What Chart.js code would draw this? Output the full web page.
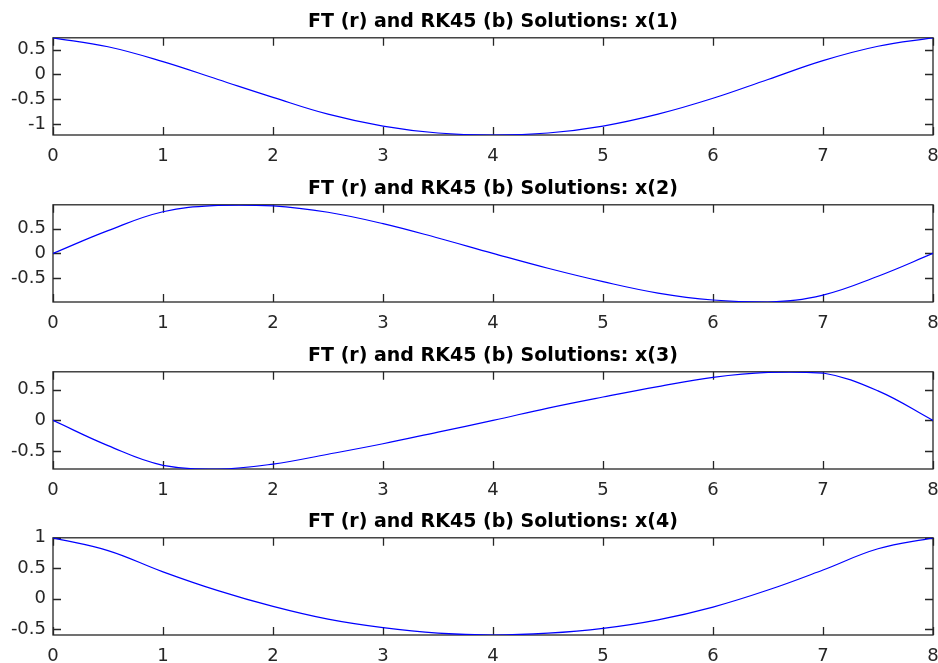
<!DOCTYPE html>
<html>
<head>
<meta charset="utf-8">
<title>FT and RK45 solutions</title>
<script src="https://cdn.jsdelivr.net/npm/chart.js@4.4.0/dist/chart.umd.min.js"></script>
<style>
  html, body { margin: 0; padding: 0; background: #fff; }
  #fig { position: relative; width: 938px; height: 663px; overflow: hidden; }
  .sub { position: absolute; left: 0; width: 938px; height: 163px; }
</style>
</head>
<body>
<div id="fig">
  <div class="sub" style="top:0px"><canvas id="c1" width="938" height="163"></canvas></div>
  <div class="sub" style="top:167px"><canvas id="c2" width="938" height="163"></canvas></div>
  <div class="sub" style="top:334px"><canvas id="c3" width="938" height="163"></canvas></div>
  <div class="sub" style="top:500px"><canvas id="c4" width="938" height="163"></canvas></div>
</div>
<script>
// time samples (every 0.5)
const tVals = [0, 0.5, 1, 1.5, 2, 2.5, 3, 3.5, 4, 4.5, 5, 5.5, 6, 6.5, 7, 7.5, 8]

const x1Vals = [0.74, 0.56, 0.26, -0.1, -0.46, -0.8, -1.04, -1.18, -1.22, -1.18, -1.04, -0.8, -0.48, -0.1, 0.28, 0.57, 0.74]
const x2Vals = [0, 0.46, 0.84, 0.97, 0.96, 0.83, 0.6, 0.31, 0, -0.3, -0.57, -0.8, -0.94, -0.98, -0.84, -0.46, 0]
const x3Vals = [0, -0.41, -0.73, -0.79, -0.71, -0.55, -0.38, -0.19, 0, 0.2, 0.38, 0.55, 0.7, 0.78, 0.77, 0.48, 0]
const x4Vals = [1.0, 0.79, 0.44, 0.13, -0.13, -0.34, -0.48, -0.57, -0.6, -0.57, -0.49, -0.35, -0.14, 0.14, 0.47, 0.82, 1.0]

const xTicks = [0, 1, 2, 3, 4, 5, 6, 7, 8]
const y1Ticks = [-1, -0.5, 0, 0.5]
const y2Ticks = [-0.5, 0, 0.5]
const y3Ticks = [-0.5, 0, 0.5]
const y4Ticks = [-0.5, 0, 0.5, 1]

const y1Range = [-1.22, 0.74]
const y2Range = [-0.98, 0.98]
const y3Range = [-0.79, 0.79]
const y4Range = [-0.6, 1.0]

const titles = [
  "FT (r) and RK45 (b) Solutions: x(1)",
  "FT (r) and RK45 (b) Solutions: x(2)",
  "FT (r) and RK45 (b) Solutions: x(3)",
  "FT (r) and RK45 (b) Solutions: x(4)",
]

const axisColor = "#262626"
const tickFont = { family: "DejaVu Sans", size: 18 }

// MATLAB-style box with inward ticks on all four sides
const matlabBox = {
  id: "matlabBox",
  beforeDatasetsDraw(chart) {
    const { ctx, chartArea: a, scales } = chart
    const len = 8
    ctx.save()
    ctx.strokeStyle = axisColor
    ctx.lineWidth = 1.3
    ctx.beginPath()
    for (const tk of scales.x.ticks) {
      const px = Math.round(scales.x.getPixelForValue(tk.value)) + 0.5
      ctx.moveTo(px, a.bottom)
      ctx.lineTo(px, a.bottom - len)
      ctx.moveTo(px, a.top)
      ctx.lineTo(px, a.top + len)
    }
    for (const tk of scales.y.ticks) {
      const py = Math.round(scales.y.getPixelForValue(tk.value)) + 0.5
      ctx.moveTo(a.left, py)
      ctx.lineTo(a.left + len, py)
      ctx.moveTo(a.right, py)
      ctx.lineTo(a.right - len, py)
    }
    ctx.stroke()
    ctx.strokeRect(a.left, a.top, a.right - a.left, a.bottom - a.top)
    ctx.restore()
  },
}

function makeSubplot(id, title, yVals, yTicks, yRange) {
  const ctx = document.getElementById(id).getContext("2d")
  return new Chart(ctx, {
    type: "line",
    data: {
      datasets: [
        {
          data: tVals.map((t, i) => ({ x: t, y: yVals[i] })),
          borderColor: "#0000ff",
          borderWidth: 1.2,
          pointRadius: 0,
          fill: false,
          tension: 0.4,
        },
      ],
    },
    options: {
      responsive: false,
      animation: false,
      events: [],
      layout: { padding: { left: 0, right: 5, top: 0, bottom: 0 } },
      plugins: {
        legend: { display: false },
        tooltip: { enabled: false },
        title: {
          display: true,
          text: title,
          fullSize: false,
          color: "#000",
          font: { family: "DejaVu Sans", size: 19, weight: "bold" },
          padding: { top: 11, bottom: 4 },
        },
      },
      scales: {
        x: {
          type: "linear",
          min: 0,
          max: 8,
          afterBuildTicks: (s) => { s.ticks = xTicks.map((v) => ({ value: v })) },
          afterFit: (s) => {
            s.height = 28
            s.paddingLeft = 0
            s.paddingRight = 0
          },
          grid: { display: false, drawTicks: false },
          border: { display: false },
          ticks: {
            padding: 11,
            color: axisColor,
            font: tickFont,
            maxRotation: 0,
            autoSkip: false,
            callback: (v) => String(v),
          },
        },
        y: {
          type: "linear",
          min: yRange[0],
          max: yRange[1],
          afterBuildTicks: (s) => { s.ticks = yTicks.map((v) => ({ value: v })) },
          afterFit: (s) => {
            s.width = 53
            s.paddingTop = 0
            s.paddingBottom = 0
          },
          grid: { display: false, drawTicks: false },
          border: { display: false },
          ticks: {
            padding: 7,
            color: axisColor,
            font: tickFont,
            autoSkip: false,
            callback: (v) => String(v),
          },
        },
      },
    },
    plugins: [matlabBox],
  })
}

makeSubplot("c1", titles[0], x1Vals, y1Ticks, y1Range)
makeSubplot("c2", titles[1], x2Vals, y2Ticks, y2Range)
makeSubplot("c3", titles[2], x3Vals, y3Ticks, y3Range)
makeSubplot("c4", titles[3], x4Vals, y4Ticks, y4Range)
</script>
</body>
</html>
